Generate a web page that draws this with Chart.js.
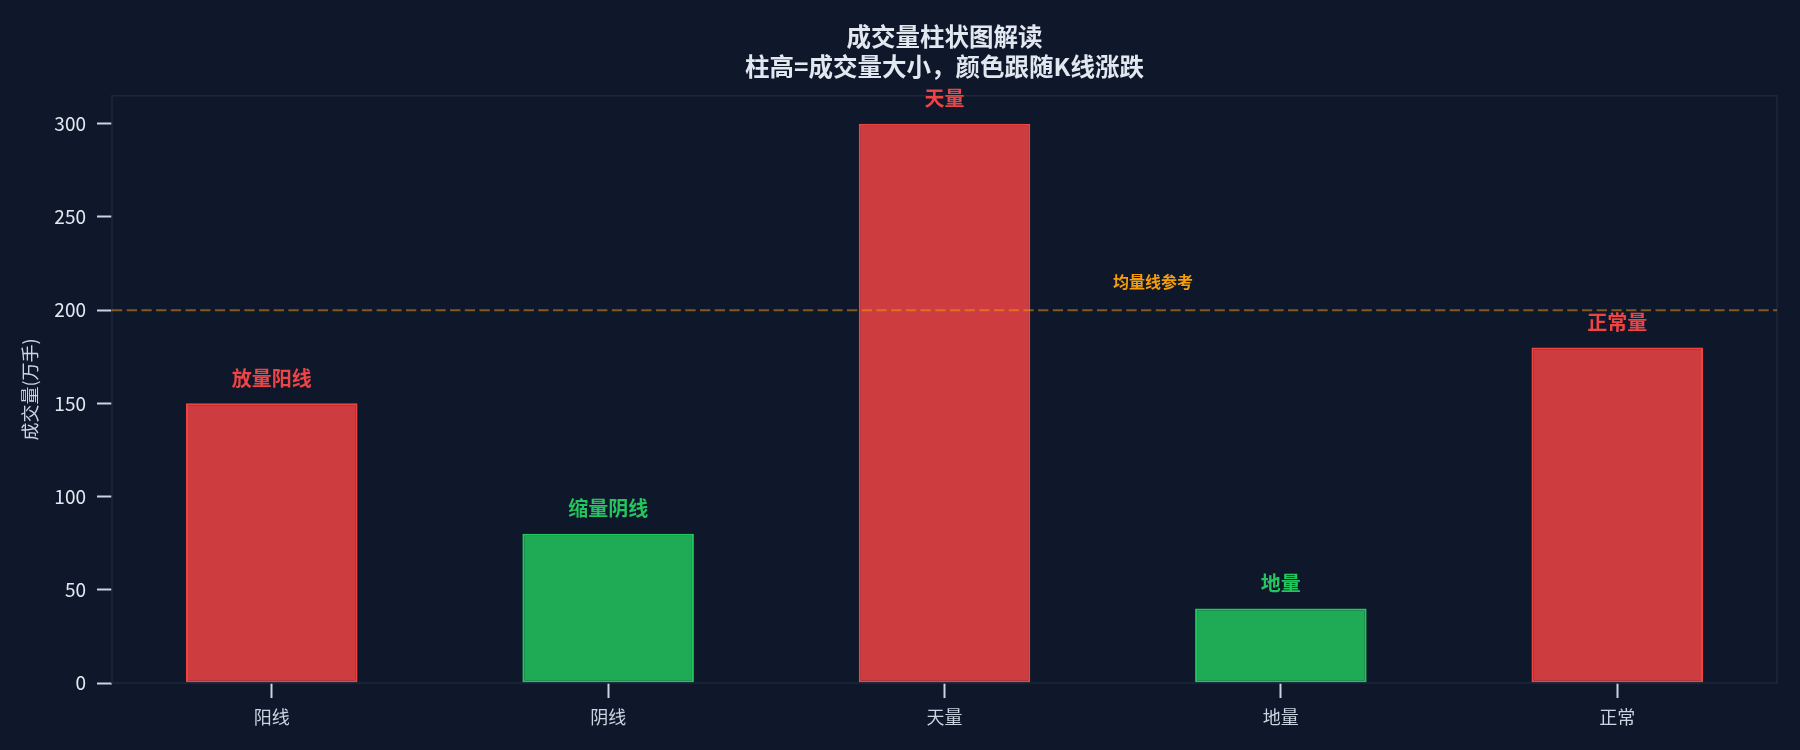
<!DOCTYPE html>
<html>
<head>
<meta charset="utf-8">
<title>成交量柱状图解读</title>
<script src="https://cdn.jsdelivr.net/npm/chart.js@4.4.1/dist/chart.umd.min.js"></script>
<style>
    body { margin: 0; background: #0f172a; }
    #VolumeChart { display: block; }
</style>
</head>
<body>
<canvas id="VolumeChart" width="1800" height="750"></canvas>
<script>
const categories = ["阳线", "阴线", "天量", "地量", "正常"];
const volumes = [150, 80, 300, 40, 180];
const barLabels = ["放量阳线", "缩量阴线", "天量", "地量", "正常量"];
const candleDirection = ["up", "down", "up", "down", "up"];
const averageVolume = 200;
const averageLabel = "均量线参考";
const averageLabelAt = [2.62, 215];
const yTickStep = 50;
const yMax = 315;

const fontFamily = "'Noto Sans CJK SC', 'Noto Sans', sans-serif";

function fillColor(dir) {
    return dir === "up" ? "rgba(239, 68, 68, 0.85)" : "rgba(34, 197, 94, 0.85)";
}

function edgeColor(dir) {
    return dir === "up" ? "#ef4444" : "#22c55e";
}

let backgroundPlugin = {
    id: "darkBackground",
    beforeDraw: function (chart) {
        let ctx = chart.ctx;
        ctx.save();
        ctx.fillStyle = "#0f172a";
        ctx.fillRect(0, 0, chart.width, chart.height);
        ctx.restore();
    }
};

let overlayPlugin = {
    id: "volumeOverlay",
    afterDatasetsDraw: function (chart) {
        let ctx = chart.ctx;
        let area = chart.chartArea;
        let x = chart.scales.x;
        let y = chart.scales.y;
        ctx.save();

        // frame around the plot
        ctx.strokeStyle = "#1e293b";
        ctx.lineWidth = 1.5;
        ctx.strokeRect(area.left, area.top, area.right - area.left, area.bottom - area.top);

        // average volume line
        let avgY = y.getPixelForValue(averageVolume);
        ctx.strokeStyle = "rgba(245, 158, 11, 0.5)";
        ctx.lineWidth = 2;
        ctx.setLineDash([10.3, 4.4]);
        ctx.beginPath();
        ctx.moveTo(area.left, avgY);
        ctx.lineTo(area.right, avgY);
        ctx.stroke();
        ctx.setLineDash([]);

        ctx.textAlign = "center";
        ctx.textBaseline = "middle";
        ctx.fillStyle = "#f59e0b";
        ctx.font = "bold 16px " + fontFamily;
        ctx.fillText(averageLabel, x.getPixelForValue(averageLabelAt[0]), y.getPixelForValue(averageLabelAt[1]));

        // labels above bars
        ctx.font = "bold 20px " + fontFamily;
        volumes.forEach(function (v, i) {
            ctx.fillStyle = edgeColor(candleDirection[i]);
            ctx.fillText(barLabels[i], x.getPixelForValue(i), y.getPixelForValue(v) - 25);
        });
        ctx.restore();
    }
};

function setupVolumeChart() {
    let context = document.getElementById("VolumeChart").getContext("2d");
    let volumeChart = new Chart(context, {
        type: "bar",
        data: {
            datasets: [{
                label: "成交量",
                data: volumes.map((v, i) => ({ x: i, y: v })),
                backgroundColor: candleDirection.map(fillColor),
                borderColor: candleDirection.map(edgeColor),
                borderWidth: 2,
                borderSkipped: false,
                categoryPercentage: 1,
                barPercentage: 0.51
            }]
        },
        options: {
            responsive: false,
            animation: false,
            layout: { padding: { left: 0, right: 23, top: 0, bottom: 0 } },
            plugins: {
                legend: { display: false },
                tooltip: { enabled: false },
                title: {
                    display: true,
                    fullSize: false,
                    text: ["成交量柱状图解读", "柱高=成交量大小，颜色跟随K线涨跌"],
                    color: "#e2e8f0",
                    font: { family: fontFamily, size: 24.5, weight: "bold", lineHeight: 1.22 },
                    padding: { top: 22, bottom: 14 }
                }
            },
            scales: {
                x: {
                    type: "linear",
                    min: -0.475,
                    max: 4.475,
                    offset: false,
                    afterFit: function (scale) { scale.height = 67; },
                    grid: {
                        display: true,
                        offset: false,
                        drawOnChartArea: false,
                        drawTicks: true,
                        tickLength: 15,
                        tickWidth: 2,
                        tickColor: "#cbd5e1"
                    },
                    border: { display: false },
                    ticks: {
                        stepSize: 1,
                        includeBounds: false,
                        autoSkip: false,
                        maxRotation: 0,
                        padding: 8,
                        color: "#cbd5e1",
                        font: { family: fontFamily, size: 18 },
                        callback: function (value) {
                            return Number.isInteger(value) ? categories[value] : "";
                        }
                    }
                },
                y: {
                    min: 0,
                    max: yMax,
                    afterFit: function (scale) { scale.width = 112; },
                    grid: {
                        display: true,
                        drawOnChartArea: false,
                        drawTicks: true,
                        tickLength: 15,
                        tickWidth: 2,
                        tickColor: "#cbd5e1"
                    },
                    border: { display: false },
                    ticks: {
                        stepSize: yTickStep,
                        includeBounds: false,
                        padding: 11,
                        color: "#e2e8f0",
                        font: { family: fontFamily, size: 19 }
                    },
                    title: {
                        display: true,
                        text: "成交量(万手)",
                        color: "#cbd5e1",
                        font: { family: fontFamily, size: 18 },
                        padding: { top: 19, bottom: 0 }
                    }
                }
            }
        },
        plugins: [backgroundPlugin, overlayPlugin]
    });
}

setupVolumeChart();
</script>
</body>
</html>
